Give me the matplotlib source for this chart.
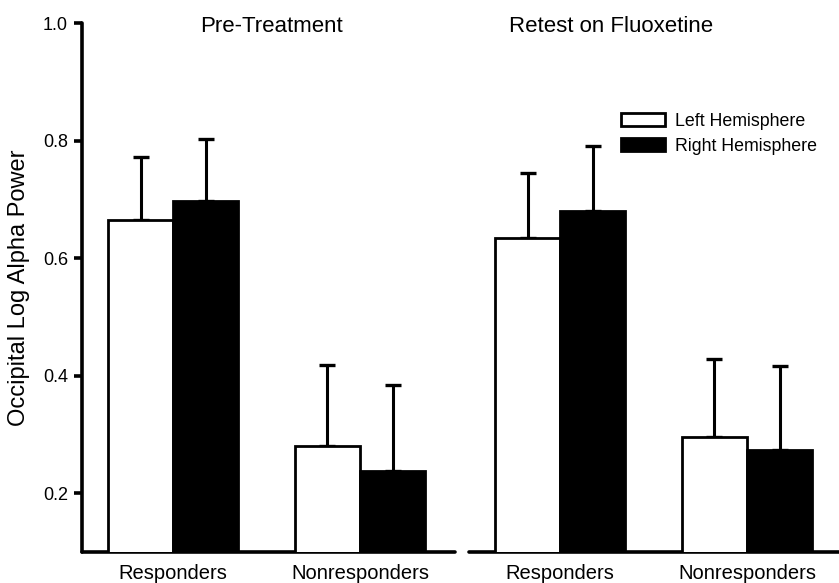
import matplotlib
matplotlib.use("Agg")
import matplotlib.pyplot as plt
import numpy as np
from matplotlib.patches import Patch

plt.rcParams['font.family'] = ['Liberation Sans', 'DejaVu Sans']

groups = ["Responders", "Nonresponders"]
series = ["Left Hemisphere", "Right Hemisphere"]
panel_titles = ["Pre-Treatment", "Retest on Fluoxetine"]

pre_left = [0.666, 0.281]
pre_left_err = [0.107, 0.137]
pre_right = [0.697, 0.238]
pre_right_err = [0.106, 0.146]

retest_left = [0.635, 0.295]
retest_left_err = [0.110, 0.133]
retest_right = [0.681, 0.274]
retest_right_err = [0.111, 0.143]

yticks = [0.2, 0.4, 0.6, 0.8, 1.0]

W, H = 839, 583
fig = plt.figure(figsize=(W / 100, H / 100), dpi=100)

bottom = 1 - 552 / H
top = 1 - 23.5 / H
ax1 = fig.add_axes([82 / W, bottom, 373 / W, top - bottom])
ax2 = fig.add_axes([469 / W, bottom, 370 / W, top - bottom])

w = 0.348
x = np.arange(len(groups))

def draw(ax, left, lerr, right, rerr, xmax):
    ax.bar(x - w / 2, left, w, bottom=0, color="white", edgecolor="black",
           linewidth=2.0, zorder=3)
    ax.bar(x + w / 2, right, w, color="black", edgecolor="black",
           linewidth=2.0, zorder=3)
    ax.errorbar(x - w / 2, left, yerr=[np.zeros(len(lerr)), lerr], fmt="none",
                ecolor="black", elinewidth=2.2, capsize=6, capthick=2.4, zorder=2)
    ax.errorbar(x + w / 2, right, yerr=[np.zeros(len(rerr)), rerr], fmt="none",
                ecolor="black", elinewidth=2.2, capsize=6, capthick=2.4, zorder=2)
    ax.set_ylim(0.1, 1.0)
    ax.set_xlim(-0.487, xmax)
    for s in ["top", "right"]:
        ax.spines[s].set_visible(False)
    ax.spines["bottom"].set_linewidth(2.6)
    ax.spines["bottom"].set_capstyle("round")
    ax.spines["left"].set_linewidth(2.6)
    ax.spines["left"].set_capstyle("round")
    ax.set_xticks(x)
    ax.set_xticklabels(groups, fontsize=14.5)
    ax.tick_params(axis="x", length=0, pad=8.5)

draw(ax1, pre_left, pre_left_err, pre_right, pre_right_err, 1.508)
draw(ax2, retest_left, retest_left_err, retest_right, retest_right_err, 1.492)

ax1.set_yticks(yticks)
ax1.set_yticklabels([f"{t:.1f}" for t in yticks], fontsize=13)
ax1.tick_params(axis="y", direction="out", length=6, width=2.6, pad=4)
ax1.set_ylabel("Occipital Log Alpha Power", fontsize=17, labelpad=9)

ax2.spines["left"].set_visible(False)
ax2.set_yticks([])

fig.text(271 / W, 1 - 32 / H, panel_titles[0], ha="center", va="baseline", fontsize=16)
fig.text(611 / W, 1 - 32 / H, panel_titles[1], ha="center", va="baseline", fontsize=16)

handles = [Patch(facecolor="white", edgecolor="black", linewidth=2.0),
           Patch(facecolor="black", edgecolor="black", linewidth=2.0)]
fig.legend(handles, series, loc="upper left", bbox_to_anchor=(621 / W, 1 - 113 / H),
           frameon=False, fontsize=12.8, borderpad=0, borderaxespad=0,
           handlelength=2.45, handleheight=0.75, handletextpad=0.6, labelspacing=0.45)

fig.savefig("out.png", dpi=100)
